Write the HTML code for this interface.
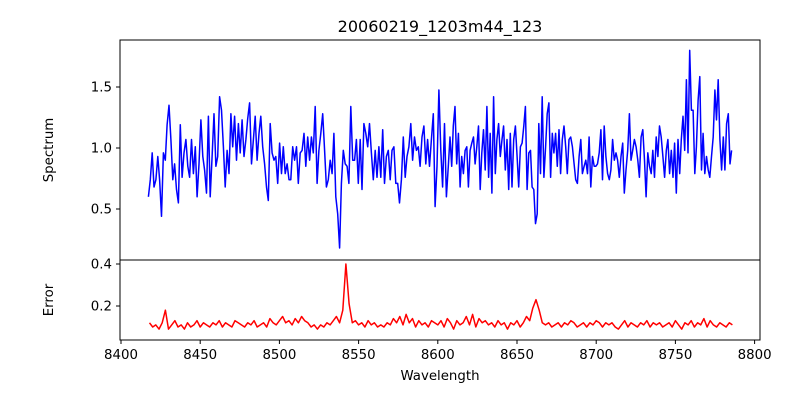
<!DOCTYPE html>
<html><head><meta charset="utf-8">
<style>
html,body{margin:0;padding:0;background:#fff;}
svg{display:block;font-family:"DejaVu Sans","Liberation Sans",sans-serif;}
</style></head>
<body>
<svg id="chart" width="800" height="400" viewBox="0 0 800 400">
  <rect x="0" y="0" width="800" height="400" fill="#fff"/>
  <text x="440" y="32" text-anchor="middle" font-size="16" fill="#000">20060219_1203m44_123</text>
  <g id="topAx"></g>
  <g id="botAx"></g>
  <text transform="translate(53,150) rotate(-90)" text-anchor="middle" font-size="13.33">Spectrum</text>
  <text transform="translate(53,300) rotate(-90)" text-anchor="middle" font-size="13.33">Error</text>
  <text x="440" y="380" text-anchor="middle" font-size="13.33">Wavelength</text>
</svg>
<script>
const fluxA = [0.60,0.74,0.96,0.68,0.74,0.93,0.74,0.44,0.96,0.90,1.19,1.35,1.07,0.74,0.87,0.66,0.55,1.19,0.76,0.96,1.07,0.85,0.76,1.07,0.79,1.01,0.60,0.87,1.23,0.93,0.82,0.63,1.26,0.60,0.93,1.28,0.85,0.93,1.42,1.31,1.01,0.68,0.98,0.79,1.28,1.01,1.26,0.90,1.20,0.96,1.23,0.93,1.07,1.24,1.37,0.87,1.07,1.26,0.90,1.12,1.26,1.01,0.87,0.68,0.57,1.20,0.96,0.90,0.93,0.71,1.04,0.79,1.01,0.79,0.87,0.74,0.74,1.01,0.90,1.01,0.71,0.96,0.98,1.12,0.85,1.09,0.90,1.09,0.96,1.34,0.71,0.98,1.12,1.28,0.98,0.68,0.74,0.90,0.79,1.12,0.60,0.46,0.18,0.71,0.98,0.87,0.85,0.71,1.34,0.90,0.90,1.07,0.71,1.07,0.66,1.20,1.12,1.01,1.20,0.96,0.74,0.98,0.76,1.01,0.76,1.15,0.71,0.93,0.98,0.74,0.98,1.01,0.71,0.71,0.55,0.74,1.09,0.76,0.93,1.01,1.20,0.90,1.09,0.98,1.01,0.85,1.09,1.18,0.87,1.07,0.85,1.07,1.28,0.52,0.85,1.475,0.98,0.68,1.20,0.60,0.85];
const fluxB = [1.09,0.85,1.18,1.34,0.87,1.12,0.68,0.93,0.79,0.98,1.01,0.68,0.98,1.04,1.09,0.87,1.01,1.18,0.66,0.96,1.15,0.82,1.34,0.76,1.12,0.63,1.42,0.79,1.07,1.20,0.93,1.07,1.18,0.82,1.07,0.66,1.12,0.68,1.07,1.18,0.93,0.68,1.01,1.04,1.18,1.34,0.66,0.96,0.98,0.68,0.66,0.38,0.46,1.20,0.79,1.42,0.76,1.01,1.28,1.37,0.76,1.12,0.96,1.12,0.85,1.15,0.79,1.07,1.18,1.01,0.79,1.07,1.09,1.01,0.87,0.74,0.71,0.93,1.07,0.79,0.85,0.90,0.79,1.09,0.68,0.93,0.85,0.85,0.87,0.96,1.15,0.74,1.18,0.93,0.79,0.74,0.82,1.07,0.90,0.96,0.90,0.76,0.93,1.04,0.63,0.82,0.98,1.28,0.90,0.98,1.07,1.01,0.90,0.76,1.09,1.15,0.90,0.60,0.96,0.85,0.79,0.98,0.76,1.09,0.93,1.18,1.09,0.93,0.76,0.98,1.07,0.79,0.98,0.76,1.04,0.63,1.07,0.79,1.07,1.26,0.98,1.56,0.96,1.80,1.31,1.31,0.79,1.01,1.39,1.585,0.82,1.12,0.79,0.93,0.82,0.76,0.93,1.09,1.475,1.23,1.56,1.07,0.82,1.09,0.82,1.20,1.28,0.87,0.98];
const lambdaA = [8417.3, 8606.6];
const lambdaB = [8607.7, 8785.5];
const errVals = [.12,.10,.11,.09,.12,.18,.09,.11,.13,.10,.11,.09,.12,.10,.11,.13,.10,.12,.11,.10,.12,.11,.13,.10,.12,.11,.10,.13,.12,.11,.10,.12,.11,.13,.10,.11,.12,.10,.14,.12,.11,.13,.15,.12,.13,.11,.14,.12,.15,.13,.12,.10,.11,.09,.11,.10,.12,.11,.13,.15,.12,.18,.40,.21,.12,.13,.11,.12,.10,.13,.11,.12,.10,.11,.10,.12,.11,.14,.12,.15,.11,.16,.12,.14,.10,.13,.11,.12,.10,.13,.12,.11,.13,.10,.14,.12,.09,.13,.11,.12,.15,.11,.16,.10,.14,.12,.13,.11,.12,.10,.13,.11,.12,.09,.12,.11,.13,.10,.12,.15,.13,.19,.23,.18,.12,.11,.12,.10,.11,.12,.10,.12,.11,.13,.12,.10,.11,.12,.10,.12,.11,.13,.12,.10,.12,.11,.12,.10,.09,.11,.13,.10,.12,.11,.10,.12,.11,.13,.10,.12,.11,.12,.10,.11,.12,.10,.13,.11,.09,.12,.11,.13,.10,.12,.11,.14,.10,.13,.11,.10,.12,.11,.10,.12,.11];
const errLambda = [8418, 8786];
const xTicks = [8400,8450,8500,8550,8600,8650,8700,8750,8800];
const topTicks = [0.5,1.0,1.5];
const topTickLabels = ["0.5","1.0","1.5"];
const botTicks = [0.2,0.4];
const botTickLabels = ["0.2","0.4"];

const NS = "http://www.w3.org/2000/svg";
const X0 = 120, X1 = 760;
const xScale = l => 121 + (l - 8400) * 1.584;
const yTop = f => 148 - (f - 1) * 122;
const yBot = e => 306 - (e - 0.2) * 210;
function mk(tag, attrs, parent){ const el = document.createElementNS(NS, tag); for (const k in attrs) el.setAttribute(k, attrs[k]); parent.appendChild(el); return el; }
function grid(range, n){ const out=[]; for(let i=0;i<n;i++) out.push(range[0] + (range[1]-range[0])*i/(n-1)); return out; }

const topAx = document.getElementById('topAx');
const botAx = document.getElementById('botAx');

const lA = grid(lambdaA, fluxA.length), lB = grid(lambdaB, fluxB.length);
const allL = lA.concat(lB), allF = fluxA.concat(fluxB);
let d = allL.map((l,i)=>(i?'L':'M')+xScale(l).toFixed(1)+','+yTop(allF[i]).toFixed(1)).join('');
const sp = mk('path',{d:d,fill:'none',stroke:'#0000ff','stroke-width':1.5,'stroke-linejoin':'round'},topAx);



const lE = grid(errLambda, errVals.length);
d = lE.map((l,i)=>(i?'L':'M')+xScale(l).toFixed(1)+','+yBot(errVals[i]).toFixed(1)).join('');
const ep = mk('path',{d:d,fill:'none',stroke:'#ff0000','stroke-width':1.5,'stroke-linejoin':'round'},botAx);



const f1 = mk('rect',{x:X0,y:40,width:X1-X0,height:220,fill:'none',stroke:'#000','stroke-width':1},topAx);


const f2 = mk('rect',{x:X0,y:260,width:X1-X0,height:80,fill:'none',stroke:'#000','stroke-width':1},botAx);



topTicks.forEach((v,i)=>{
  const y = yTop(v);
  const t = mk('line',{x1:X0-4,x2:X0,y1:y,y2:y,stroke:'#000'},topAx);
  
  
  const tx = mk('text',{x:X0-8,y:y+4.5,'text-anchor':'end','font-size':13.33},topAx);
  tx.textContent = topTickLabels[i];
  
  
});
botTicks.forEach((v,i)=>{
  const y = yBot(v);
  const t = mk('line',{x1:X0-4,x2:X0,y1:y,y2:y,stroke:'#000'},botAx);
  
  
  const tx = mk('text',{x:X0-8,y:y+4.5,'text-anchor':'end','font-size':13.33},botAx);
  tx.textContent = botTickLabels[i];
  
  
});
xTicks.forEach(v=>{
  const x = xScale(v);
  const t = mk('line',{x1:x,x2:x,y1:340,y2:344,stroke:'#000'},botAx);
  
  
  const tx = mk('text',{x:x,y:359,'text-anchor':'middle','font-size':13.33},botAx);
  tx.textContent = String(v);
  
  
});
</script>
</body></html>
